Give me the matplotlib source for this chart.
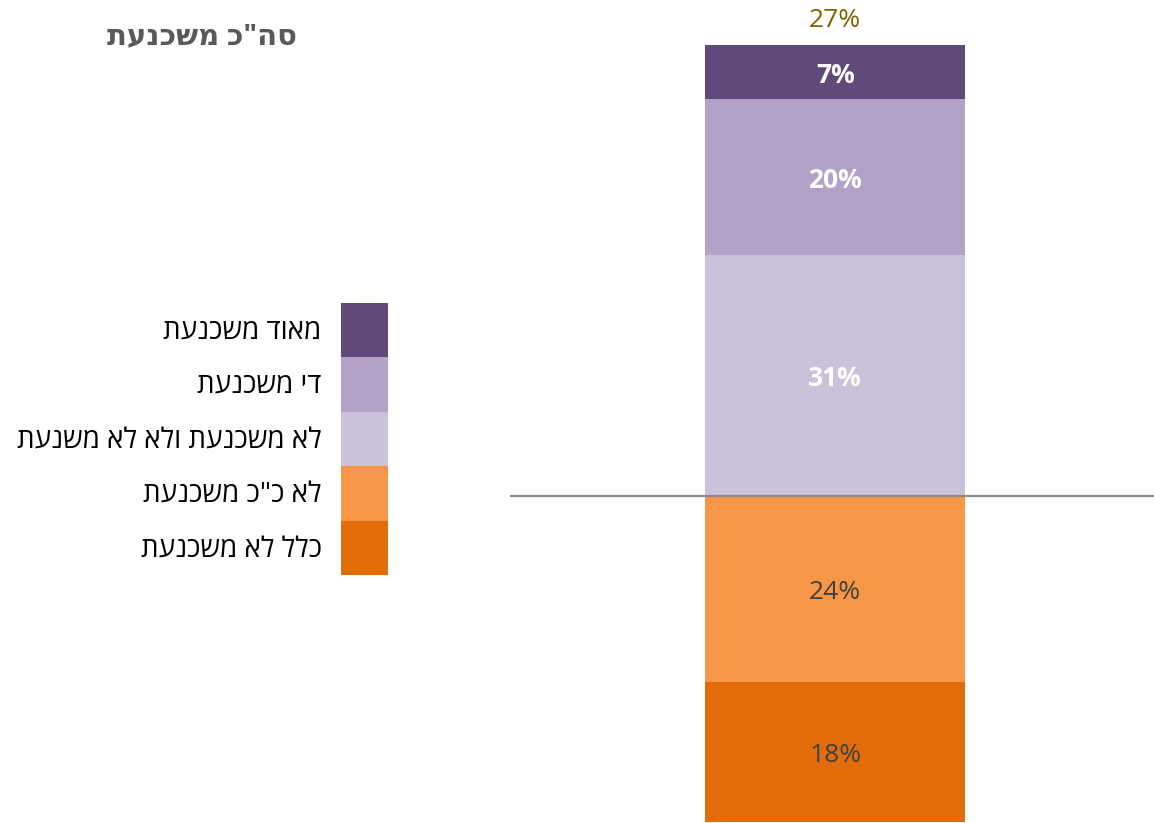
import matplotlib.pyplot as plt
from matplotlib.patches import Patch

plt.rcParams['font.family'] = ['Open Sans', 'DejaVu Sans']

# matplotlib lays text out left-to-right, so Hebrew strings are reversed
def rtl(s):
    return s[::-1]

title = 'סה"כ משכנעת'
labels = ['כלל לא משכנעת', 'לא כ"כ משכנעת', 'לא משכנעת ולא לא משנעת',
          'די משכנעת', 'מאוד משכנעת']
# negative side (unconvincing) and positive side, in %
neg_values = [18, 24]
pos_values = [31, 20, 7]
colors = ['#E36C0A', '#F79646', '#CCC1DA', '#B3A2C7', '#604A7B']
label_colors = ['#404040', '#404040', 'white', 'white', 'white']
label_weights = ['normal', 'normal', 'bold', 'bold', 'bold']

fig = plt.figure(figsize=(11.54, 8.23), dpi=100)
ax = fig.add_axes([510 / 1154, 1 / 823, 644 / 1154, 816 / 823])

x = 0.505
width = 0.404
bars = []
# below the zero line: stack downwards from 0
bottom = 0
for i, v in enumerate(reversed(neg_values)):
    idx = len(neg_values) - 1 - i
    b = ax.bar(x, -v, width, bottom=bottom, color=colors[idx], linewidth=0)
    bottom -= v
    bars.append((idx, b, v))
# above the zero line
bottom = 0
for j, v in enumerate(pos_values):
    idx = len(neg_values) + j
    b = ax.bar(x, v, width, bottom=bottom, color=colors[idx], linewidth=0)
    bottom += v
    bars.append((idx, b, v))

for idx, b, v in bars:
    texts = ax.bar_label(b, labels=[f'{v}%'], label_type='center', fontsize=19,
                         color=label_colors[idx], fontweight=label_weights[idx])
    for t in texts:
        t.xyann = (0, -2.5)

# total of the two "convincing" categories above the bar
top_total = pos_values[1] + pos_values[2]
ax.annotate(f'{top_total}%', (x, sum(pos_values)), xytext=(0, 17.5),
            textcoords='offset points', ha='center', va='center',
            fontsize=19, color='#7F6000')

ax.axhline(0, color='#8C8C8C', linewidth=1.6, zorder=3)
ax.set_xlim(0, 1)
ax.set_ylim(-sum(neg_values), 63)
ax.axis('off')

fig.text(297 / 1154, 1 - 37 / 823, rtl(title), ha='right', va='center',
         fontsize=21, fontweight='bold', color='#595959')

fs = 20
fpx = fs * 100 / 72
handles = [Patch(facecolor=c, linewidth=0) for c in reversed(colors)]
fig.legend(handles, [rtl(l) for l in reversed(labels)],
           loc='center right', bbox_to_anchor=(388 / 1154, 1 - 439 / 823),
           markerfirst=False, frameon=False, fontsize=fs,
           handlelength=47 / fpx, handleheight=(54.5 / fpx - 0.245) / 0.65,
           labelspacing=0, handletextpad=0.7, borderpad=0, borderaxespad=0)

fig.savefig('out.png', dpi=100)
